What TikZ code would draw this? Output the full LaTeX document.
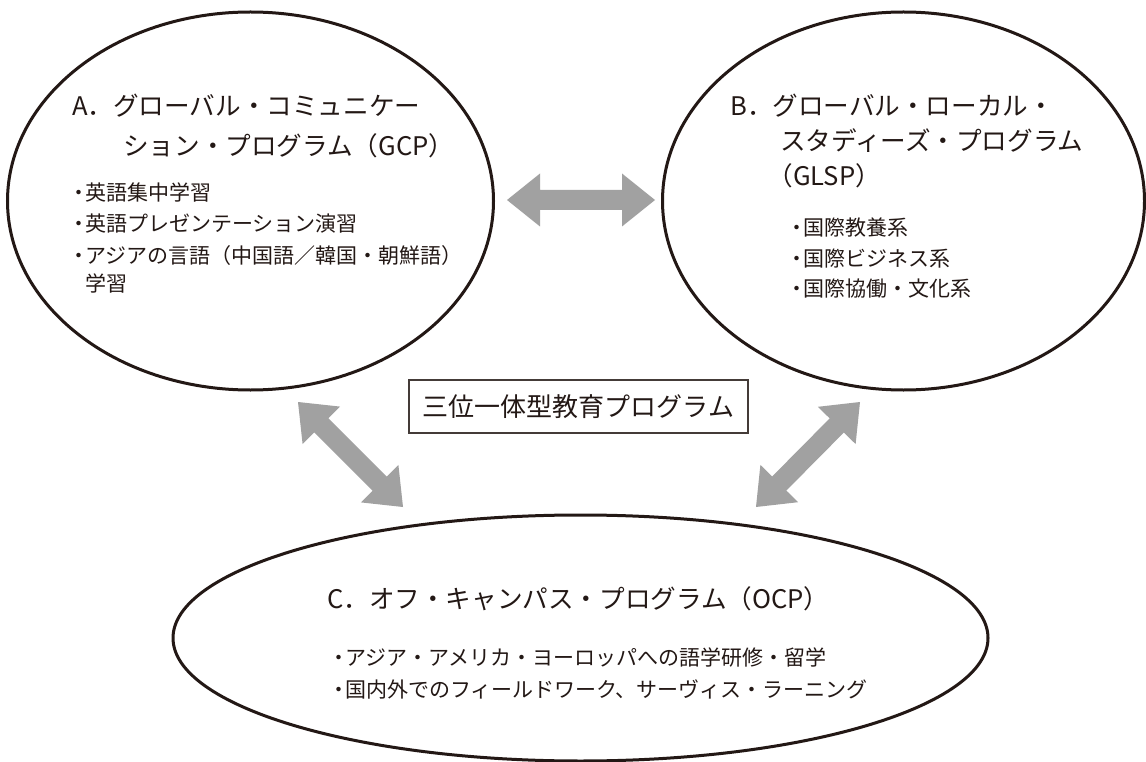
\documentclass[tikz,border=0pt]{standalone}
\usepackage{fontspec}
\setmainfont{Noto Sans CJK JP}
\usetikzlibrary{calc,shapes.geometric}
\definecolor{inkblack}{RGB}{35,24,21}
\definecolor{arrowgray}{RGB}{161,161,161}
\tikzset{
  progring/.style={ellipse,draw=inkblack,line width=3pt,inner sep=0pt},
  headtext/.style={anchor=base west,inner sep=0pt,text=inkblack,font=\fontsize{25.6}{30}\selectfont},
  itemtext/.style={anchor=base west,inner sep=0pt,text=inkblack,font=\fontsize{21}{26}\selectfont},
  titlebox/.style={draw=inkblack!85,line width=1.2pt,minimum width=339pt,minimum height=53pt,inner sep=0pt,text=inkblack,font=\fontsize{26}{30}\selectfont},
  arrowfill/.style={fill=arrowgray}
}
\newcommand\bul{\makebox[0.62em]{・}}
% fat grey double arrow between two named points
\newcommand\blockarrow[2]{%
  \fill[arrowfill] (#1)
    -- ($(#1)!33pt!(#2)!26.5pt!90:(#2)$) -- ($(#1)!33pt!(#2)!10pt!90:(#2)$)
    -- ($(#2)!33pt!(#1)!10pt!-90:(#1)$) -- ($(#2)!33pt!(#1)!26.5pt!-90:(#1)$)
    -- (#2)
    -- ($(#2)!33pt!(#1)!26.5pt!90:(#1)$) -- ($(#2)!33pt!(#1)!10pt!90:(#1)$)
    -- ($(#1)!33pt!(#2)!10pt!-90:(#2)$) -- ($(#1)!33pt!(#2)!26.5pt!-90:(#2)$)
    -- cycle;}
\begin{document}
\begin{tikzpicture}[x=1pt,y=-1pt]
	\fill[white] (0,0) rectangle (1146,762);
	\useasboundingbox (0,0) rectangle (1146,762);
	% the three programmes
	\node[progring,minimum width=486pt,minimum height=378pt] (gcp) at (250.5,201) {};
	\node[progring,minimum width=482pt,minimum height=378pt] (glsp) at (903.5,201) {};
	\node[progring,minimum width=815pt,minimum height=246pt] (ocp) at (580.5,638) {};
	% A
	\node[headtext] (gcpA) at (72,116) {A．グローバル・コミュニケー};
	\node[headtext] (gcpB) at (123,156) {ション・プログラム（GCP）};
	\node[itemtext] (gcp1) at (72,201) {\bul 英語集中学習};
	\node[itemtext] (gcp2) at (72,232) {\bul 英語プレゼンテーション演習};
	\node[itemtext] (gcp3) at (72,264) {\bul アジアの言語（中国語／韓国・朝鮮語）};
	\node[itemtext] (gcp4) at (85,291) {学習};
	% B
	\node[headtext] (glspA) at (730,116) {B．グローバル・ローカル・};
	\node[headtext] (glspB) at (780,151) {スタディーズ・プログラム};
	\node[headtext] (glspC) at (780,186) {\kern-0.5em（GLSP）};
	\node[itemtext] (glsp1) at (790,236) {\bul 国際教養系};
	\node[itemtext] (glsp2) at (790,266) {\bul 国際ビジネス系};
	\node[itemtext] (glsp3) at (790,296) {\bul 国際協働・文化系};
	% C
	\node[headtext] (ocpA) at (327,608) {C．オフ・キャンパス・プログラム（OCP）};
	\node[itemtext] (ocp1) at (332,665) {\bul アジア・アメリカ・ヨーロッパへの語学研修・留学};
	\node[itemtext] (ocp2) at (332,697) {\bul 国内外でのフィールドワーク、サーヴィス・ラーニング};
	% centre title
	\node[titlebox] (trinity) at (578.5,406.5) {三位一体型教育プログラム};
	% arrows
	\coordinate (abL) at (507,200);
	\coordinate (abR) at (655,200);
	\coordinate (acU) at (298,402);
	\coordinate (acD) at (403,507);
	\coordinate (bcU) at (860,402);
	\coordinate (bcD) at (756,507);
	\blockarrow{abL}{abR}
	\blockarrow{acU}{acD}
	\blockarrow{bcU}{bcD}
\end{tikzpicture}
\end{document}
